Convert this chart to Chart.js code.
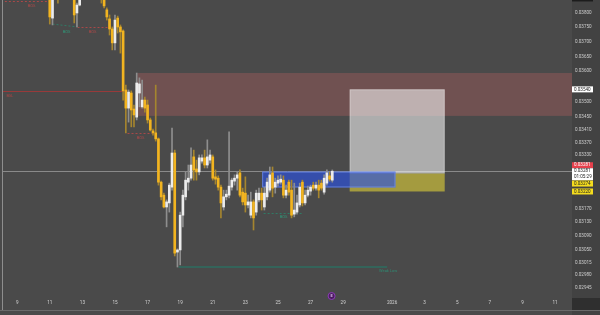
<!DOCTYPE html>
<html>
<head>
<meta charset="utf-8">
<script src="https://cdn.jsdelivr.net/npm/chart.js@4.4.1/dist/chart.umd.min.js"></script>
<style>
  html, body { margin: 0; padding: 0; background: #4a4a4a; }
  #wrap { width: 600px; height: 315px; position: relative; }
</style>
</head>
<body>
<div id="wrap"><canvas id="chart"></canvas></div>
<script>
// 4h candles, time in days since Dec 1 2025
const candleStart = 10;       // Dec 11 00:00
const candleStep = 1 / 6;     // 4 hours

const opens = [
  0.03857, 0.03782, 0.03857, 0.03900, 0.03864, 0.03889, 0.03868, 0.03882, 0.03860, 0.03875,
  0.03800, 0.03828, 0.03860, 0.03882, 0.03868, 0.03889, 0.03875, 0.03860, 0.03878, 0.03864,
  0.03850, 0.03811, 0.03779, 0.03744, 0.03696, 0.03782, 0.03751, 0.03737, 0.03538, 0.03479,
  0.03528, 0.03476, 0.03450, 0.03528, 0.03483, 0.03505, 0.03489, 0.03441, 0.03406, 0.03400,
  0.03381, 0.03248, 0.03209, 0.03174, 0.03186, 0.03233, 0.03337, 0.03044, 0.03050, 0.03150,
  0.03204, 0.03248, 0.03260, 0.03325, 0.03288, 0.03279, 0.03312, 0.03322, 0.03300, 0.03315,
  0.03325, 0.03264, 0.03260, 0.03233, 0.03174, 0.03204, 0.03209, 0.03233, 0.03251, 0.03260,
  0.03276, 0.03218, 0.03215, 0.03180, 0.03150, 0.03189, 0.03159, 0.03195, 0.03215, 0.03174,
  0.03204, 0.03224, 0.03276, 0.03233, 0.03245, 0.03248, 0.03254, 0.03209, 0.03248, 0.03224,
  0.03153, 0.03159, 0.03180, 0.03248, 0.03186, 0.03209, 0.03221, 0.03239, 0.03230, 0.03239,
  0.03245, 0.03218, 0.03245, 0.03267, 0.03254
];
const highs = [
  0.03875, 0.03868, 0.03900, 0.03918, 0.03904, 0.03911, 0.03900, 0.03896, 0.03889, 0.03882,
  0.03835, 0.03875, 0.03896, 0.03904, 0.03911, 0.03904, 0.03889, 0.03893, 0.03889, 0.03875,
  0.03860, 0.03818, 0.03793, 0.03751, 0.03793, 0.03789, 0.03758, 0.03741, 0.03554, 0.03538,
  0.03535, 0.03489, 0.03594, 0.03578, 0.03571, 0.03515, 0.03505, 0.03447, 0.03412, 0.03554,
  0.03384, 0.03251, 0.03215, 0.03195, 0.03245, 0.03415, 0.03346, 0.03053, 0.03159, 0.03224,
  0.03279, 0.03300, 0.03353, 0.03346, 0.03315, 0.03331, 0.03331, 0.03346, 0.03378, 0.03346,
  0.03331, 0.03285, 0.03267, 0.03239, 0.03224, 0.03224, 0.03403, 0.03260, 0.03270, 0.03279,
  0.03285, 0.03230, 0.03264, 0.03209, 0.03218, 0.03195, 0.03224, 0.03230, 0.03230, 0.03233,
  0.03260, 0.03294, 0.03294, 0.03260, 0.03267, 0.03270, 0.03267, 0.03239, 0.03254, 0.03254,
  0.03245, 0.03209, 0.03245, 0.03254, 0.03224, 0.03236, 0.03239, 0.03248, 0.03248, 0.03254,
  0.03254, 0.03270, 0.03285, 0.03279, 0.03285
];
const lows = [
  0.03761, 0.03758, 0.03850, 0.03835, 0.03853, 0.03857, 0.03853, 0.03850, 0.03850, 0.03765,
  0.03751, 0.03825, 0.03850, 0.03853, 0.03857, 0.03860, 0.03850, 0.03853, 0.03853, 0.03835,
  0.03818, 0.03775, 0.03723, 0.03672, 0.03672, 0.03730, 0.03661, 0.03505, 0.03400, 0.03434,
  0.03419, 0.03419, 0.03441, 0.03483, 0.03479, 0.03466, 0.03431, 0.03406, 0.03393, 0.03374,
  0.03239, 0.03195, 0.03171, 0.03116, 0.03159, 0.03224, 0.03033, 0.03002, 0.03008, 0.03116,
  0.03195, 0.03224, 0.03254, 0.03254, 0.03254, 0.03270, 0.03306, 0.03291, 0.03291, 0.03306,
  0.03254, 0.03242, 0.03224, 0.03142, 0.03165, 0.03195, 0.03201, 0.03224, 0.03239, 0.03224,
  0.03204, 0.03180, 0.03159, 0.03171, 0.03142, 0.03107, 0.03150, 0.03189, 0.03165, 0.03165,
  0.03195, 0.03218, 0.03204, 0.03215, 0.03236, 0.03242, 0.03201, 0.03201, 0.03209, 0.03142,
  0.03145, 0.03153, 0.03174, 0.03177, 0.03180, 0.03204, 0.03209, 0.03224, 0.03224, 0.03201,
  0.03224, 0.03212, 0.03239, 0.03251, 0.03248
];
const closes = [
  0.03786, 0.03857, 0.03889, 0.03864, 0.03889, 0.03868, 0.03882, 0.03860, 0.03875, 0.03793,
  0.03828, 0.03860, 0.03882, 0.03868, 0.03889, 0.03875, 0.03860, 0.03878, 0.03864, 0.03850,
  0.03825, 0.03786, 0.03744, 0.03696, 0.03775, 0.03751, 0.03734, 0.03535, 0.03479, 0.03531,
  0.03473, 0.03457, 0.03561, 0.03558, 0.03505, 0.03479, 0.03441, 0.03409, 0.03400, 0.03381,
  0.03248, 0.03204, 0.03174, 0.03189, 0.03239, 0.03337, 0.03041, 0.03050, 0.03150, 0.03209,
  0.03254, 0.03260, 0.03300, 0.03285, 0.03279, 0.03322, 0.03322, 0.03300, 0.03325, 0.03331,
  0.03260, 0.03257, 0.03233, 0.03186, 0.03204, 0.03212, 0.03236, 0.03254, 0.03260, 0.03270,
  0.03209, 0.03189, 0.03180, 0.03189, 0.03189, 0.03142, 0.03215, 0.03215, 0.03195, 0.03215,
  0.03248, 0.03270, 0.03230, 0.03248, 0.03254, 0.03257, 0.03209, 0.03224, 0.03218, 0.03150,
  0.03165, 0.03186, 0.03233, 0.03186, 0.03209, 0.03224, 0.03233, 0.03230, 0.03239, 0.03224,
  0.03230, 0.03260, 0.03276, 0.03257, 0.03281
];

// axis ticks
const xTickDays = [8, 10, 12, 14, 16, 18, 20, 22, 24, 26, 28, 31, 33, 35, 37, 39, 41];
const xTickLabels = ['9', '11', '13', '15', '17', '19', '21', '23', '25', '27', '29', '2026', '3', '5', '7', '9', '11'];
const yTickValues = [0.038, 0.0375, 0.037, 0.0365, 0.036, 0.035, 0.0345, 0.0341, 0.0337, 0.0333,
  0.0317, 0.0313, 0.0309, 0.0305, 0.03015, 0.0298, 0.02945];

// drawings: [dayFrom, dayTo, priceTop, priceBottom]
const supplyZone = [15.38, 45, 0.03594, 0.03454];
const rangeBox = [23.03, 31.21, 0.0328, 0.03232];
const targetBox = [28.40, 34.23, 0.0354, 0.03274];
const stopBox = [28.40, 34.23, 0.03274, 0.0322];
const lastPrice = 0.03281;
const highLine = [7.0, 14.58, 0.03536];
const lowLine = [17.9, 30.7, 0.03002];
// structure breaks: [dayFrom, dayTo, price, label]
const breaksRed = [[7.0, 10.04, 0.03842, 'BOS'], [11.70, 13.54, 0.03751, 'BOS'], [14.77, 16.37, 0.03400, 'BOS']];
const breaksGreen = [[23.12, 25.57, 0.03155, 'BOS']];
const priceTags = [0.03848, 0.0354, 0.03281, 0.03281, 0.03274, 0.0322];
const tagTexts = ['0.03848', '0.03540', '0.03281', '0.03281', '0.03274', '0.03220'];
const countdown = '01:05:29';
const eventDay = 27.29;

const times = opens.map((_, i) => candleStart + i * candleStep);
const isUp = opens.map((o, i) => closes[i] >= o);

const UP = '#ececec', DOWN = '#f2b420';
const UP_WICK = '#8e8e8e', DOWN_WICK = '#a5852f';
const FONT = 'Roboto, "DejaVu Sans", sans-serif';

const overlays = {
  id: 'overlays',
  beforeDraw(chart) {
    const { ctx, chartArea: a, width, height } = chart;
    ctx.save();
    ctx.fillStyle = '#4a4a4a';
    ctx.fillRect(0, 0, width, height);
    ctx.fillStyle = '#424242';
    ctx.fillRect(a.right, 0, width - a.right, height);
    ctx.fillStyle = '#2f2f2f';
    ctx.fillRect(a.right, a.bottom, width - a.right, 12);
    ctx.restore();
  },
  beforeDatasetsDraw(chart) {
    const { ctx, chartArea: a } = chart;
    const X = d => chart.scales.x.getPixelForValue(d);
    const Y = p => chart.scales.y.getPixelForValue(p);
    const rect = (b, fill, stroke) => {
      const x1 = X(b[0]), x2 = X(b[1]), y1 = Y(b[2]), y2 = Y(b[3]);
      ctx.fillStyle = fill;
      ctx.fillRect(x1, y1, x2 - x1, y2 - y1);
      if (stroke) {
        ctx.strokeStyle = stroke;
        ctx.lineWidth = 1;
        ctx.strokeRect(x1 + 0.5, y1 + 0.5, x2 - x1 - 1, y2 - y1 - 1);
      }
    };
    const label = (text, x, y, color) => {
      ctx.fillStyle = color;
      ctx.font = '4px ' + FONT;
      ctx.textAlign = 'center';
      ctx.textBaseline = 'middle';
      ctx.fillText(text, x, y);
    };
    ctx.save();
    ctx.beginPath();
    ctx.rect(a.left, a.top, a.width, a.height);
    ctx.clip();

    rect(supplyZone, 'rgba(160,90,90,0.45)');

    // last price line
    ctx.strokeStyle = '#8a8a8a';
    ctx.lineWidth = 1;
    ctx.beginPath();
    ctx.moveTo(a.left, Math.round(Y(lastPrice)) + 0.5);
    ctx.lineTo(a.right, Math.round(Y(lastPrice)) + 0.5);
    ctx.stroke();

    rect(targetBox, 'rgba(255,255,255,0.55)', 'rgba(255,255,255,0.25)');
    rect(stopBox, 'rgba(190,178,60,0.78)');
    rect(rangeBox, 'rgba(40,80,230,0.62)', 'rgba(120,150,240,0.7)');

    // swing high line
    ctx.strokeStyle = '#983a3a';
    ctx.lineWidth = 1;
    ctx.beginPath();
    ctx.moveTo(X(highLine[0]), Math.round(Y(highLine[2])) + 0.5);
    ctx.lineTo(X(highLine[1]), Math.round(Y(highLine[2])) + 0.5);
    ctx.stroke();
    label('BSL', a.left + 7, Y(highLine[2]) + 5, '#b04444');

    // weak low line
    ctx.strokeStyle = '#2e6e60';
    ctx.lineWidth = 1.5;
    ctx.beginPath();
    ctx.moveTo(X(lowLine[0]), Y(lowLine[2]));
    ctx.lineTo(X(lowLine[1]), Y(lowLine[2]));
    ctx.stroke();
    label('Weak Low', X(lowLine[1]) + 1, Y(lowLine[2]) + 4, '#2f8a72');

    // structure breaks
    ctx.setLineDash([2, 2]);
    ctx.lineWidth = 1;
    breaksRed.forEach(b => {
      ctx.strokeStyle = '#a84848';
      ctx.beginPath();
      ctx.moveTo(X(b[0]), Math.round(Y(b[2])) + 0.5);
      ctx.lineTo(X(b[1]), Math.round(Y(b[2])) + 0.5);
      ctx.stroke();
      label(b[3], (X(b[0]) + X(b[1])) / 2 + (b[0] < 8 ? 6 : 0), Y(b[2]) + 5, '#b04848');
    });
    breaksGreen.forEach(b => {
      ctx.strokeStyle = '#2f7a65';
      ctx.beginPath();
      ctx.moveTo(X(b[0]), Math.round(Y(b[2])) + 0.5);
      ctx.lineTo(X(b[1]), Math.round(Y(b[2])) + 0.5);
      ctx.stroke();
      label(b[3], (X(b[0]) + X(b[1])) / 2, Y(b[2]) + 4, '#2f9a7a');
    });
    // sloped choch line near the top
    ctx.strokeStyle = '#2f7a65';
    ctx.beginPath();
    ctx.moveTo(X(10.17), Y(0.03761));
    ctx.lineTo(X(11.70), Y(0.03751));
    ctx.stroke();
    ctx.setLineDash([]);
    label('BOS', X(11.03), Y(0.03733), '#2f9a7a');
    label('BOS', X(7.55), Y(0.03855), '#2f9a7a');
    ctx.restore();
  },
  afterDraw(chart) {
    const { ctx, chartArea: a } = chart;
    const Y = p => chart.scales.y.getPixelForValue(p);
    const X = d => chart.scales.x.getPixelForValue(d);
    ctx.save();
    // panel borders
    ctx.fillStyle = '#8e8e8e';
    ctx.fillRect(a.left - 1, 0, 1, a.bottom + 12);
    ctx.fillStyle = '#6a6a6a';
    ctx.fillRect(0, a.bottom + 12, chart.width, 1);

    // price tags on the axis
    const styles = [
      { bg: '#1c1c1c', fg: '#d0d0d0', dy: -1 },
      { bg: '#ffffff', fg: '#222222', dy: 0 },
      { bg: '#e5404c', fg: '#ffffff', dy: -6 },
      { bg: '#ffffff', fg: '#222222', dy: 0, two: true },
      { bg: '#f4dc1e', fg: '#222222', dy: 10 },
      { bg: '#f4dc1e', fg: '#222222', dy: 0 }
    ];
    ctx.font = '4.6px ' + FONT;
    ctx.textAlign = 'left';
    ctx.textBaseline = 'middle';
    priceTags.forEach((v, i) => {
      const s = styles[i];
      const yc = Y(v) + s.dy;
      const h = s.two ? 12 : 6;
      const top = s.two ? yc - 3 : yc - h / 2;
      ctx.fillStyle = s.bg;
      ctx.fillRect(a.right, top, 21, h);
      ctx.fillStyle = s.fg;
      ctx.fillText(tagTexts[i], a.right + 2, top + 3);
      if (s.two) ctx.fillText(countdown, a.right + 2, top + 9);
    });

    // event marker
    const ex = X(eventDay), ey = a.bottom - 2;
    ctx.fillStyle = '#4b1c60';
    ctx.strokeStyle = '#8d3cb8';
    ctx.lineWidth = 1;
    ctx.beginPath();
    ctx.arc(ex, ey, 3.5, 0, Math.PI * 2);
    ctx.fill();
    ctx.stroke();
    ctx.fillStyle = '#d9b6ea';
    ctx.font = 'bold 4px ' + FONT;
    ctx.textAlign = 'center';
    ctx.fillText('E', ex, ey + 0.3);
    ctx.restore();
  }
};

new Chart(document.getElementById('chart'), {
  type: 'bar',
  data: {
    datasets: [
      {
        label: 'body',
        order: 0,
        data: times.map((t, i) => ({ x: t, y: [opens[i], closes[i]] })),
        backgroundColor: isUp.map(u => u ? UP : DOWN),
        barThickness: 2,
        minBarLength: 1,
        grouped: false,
        borderWidth: 0
      },
      {
        label: 'wick',
        order: 1,
        data: times.map((t, i) => ({ x: t, y: [lows[i], highs[i]] })),
        backgroundColor: isUp.map(u => u ? UP_WICK : DOWN_WICK),
        barThickness: 1,
        grouped: false,
        borderWidth: 0
      }
    ]
  },
  options: {
    responsive: true,
    maintainAspectRatio: false,
    animation: false,
    devicePixelRatio: 1,
    layout: { padding: { left: 3, top: 0, right: 0, bottom: 0 } },
    plugins: { legend: { display: false }, tooltip: { enabled: false } },
    scales: {
      x: {
        type: 'linear',
        min: 7.13,
        max: 42.04,
        offset: false,
        afterBuildTicks: s => { s.ticks = xTickDays.map(v => ({ value: v })); },
        afterFit: s => { s.height = 17; s.paddingLeft = 0; s.paddingRight = 0; },
        grid: { display: false, drawTicks: false },
        border: { display: false },
        ticks: {
          color: '#d4d4d4',
          font: { size: 4.6, family: FONT },
          padding: 2,
          maxRotation: 0,
          autoSkip: false,
          callback: (v, i) => xTickLabels[i]
        }
      },
      y: {
        type: 'logarithmic',
        position: 'right',
        min: 0.02917,
        max: 0.03846,
        afterBuildTicks: s => { s.ticks = yTickValues.map(v => ({ value: v })); },
        afterFit: s => { s.width = 28; s.paddingTop = 0; s.paddingBottom = 0; },
        grid: { display: false, drawTicks: false },
        border: { display: false },
        ticks: {
          color: '#cfcfcf',
          font: { size: 4.6, family: FONT },
          padding: 3,
          autoSkip: false,
          callback: v => Number(v).toFixed(5)
        }
      }
    }
  },
  plugins: [overlays]
});
</script>
</body>
</html>
